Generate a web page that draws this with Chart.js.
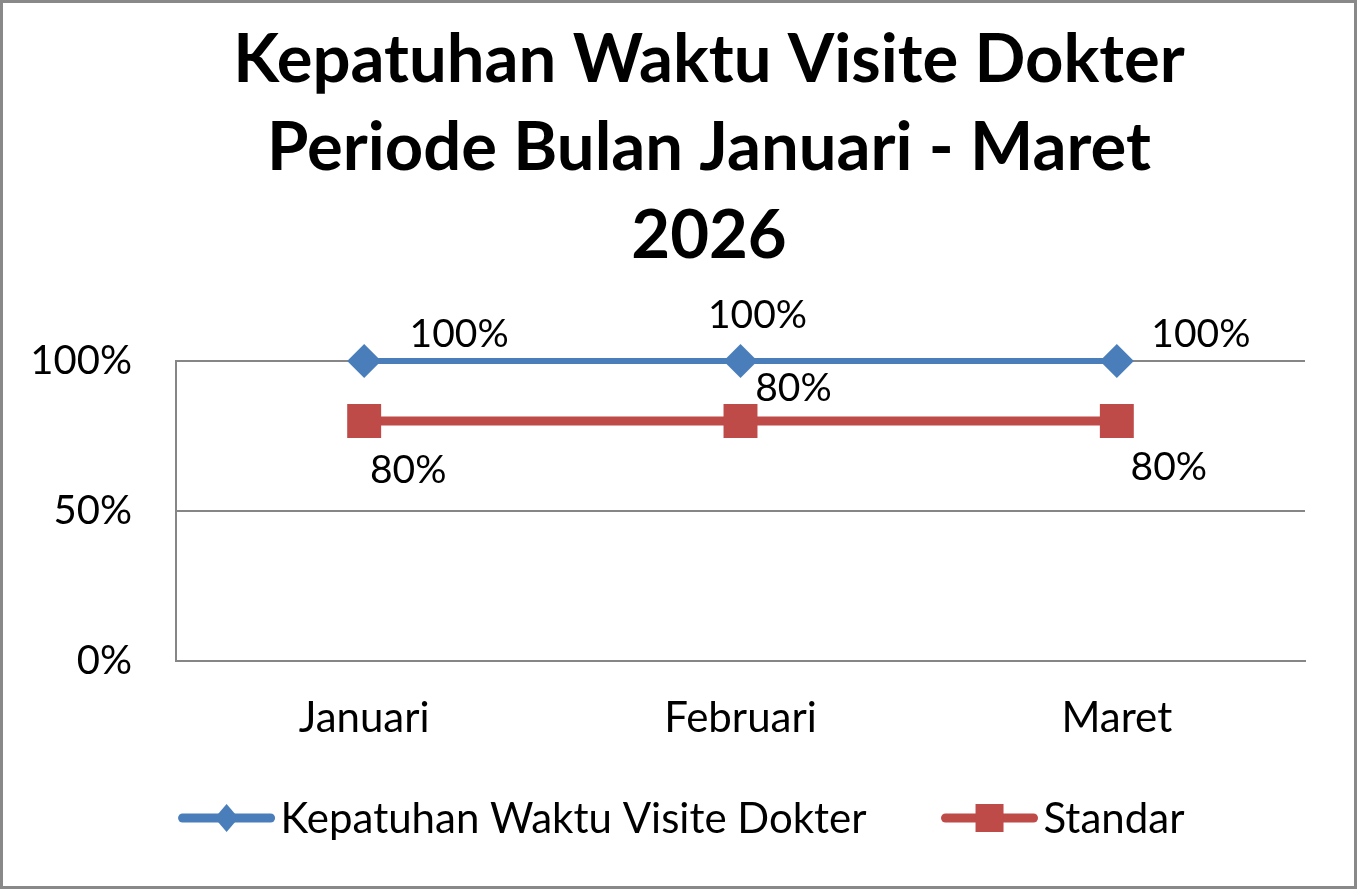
<!DOCTYPE html>
<html>
<head>
<meta charset="utf-8">
<title>Kepatuhan Waktu Visite Dokter</title>
<script src="https://cdn.jsdelivr.net/npm/chart.js@4.4.1/dist/chart.umd.min.js"></script>
<style>
  html, body { margin: 0; padding: 0; background: #ffffff; overflow: hidden; }
  canvas { display: block; }
</style>
</head>
<body>
<canvas id="c" width="1357" height="889"></canvas>
<script>
// ---- data ----
const titleLines = ['Kepatuhan Waktu Visite Dokter', 'Periode Bulan Januari - Maret', '2026'];
const categories = ['Januari', 'Februari', 'Maret'];
const seriesNames = ['Kepatuhan Waktu Visite Dokter', 'Standar'];
const kepatuhanValues = [1.00, 1.00, 1.00];
const standarValues = [0.80, 0.80, 0.80];
const yTickLabels = ['0%', '50%', '100%'];

// ---- styles ----
const FONT = 'Lato, "Open Sans", sans-serif';
const BLUE = '#4A7EBB';
const RED = '#BE4B48';
const GRID = '#868686';
// label offsets (px) relative to each point, per series
const labelOffsets = [
  [[95, -28], [17, -47], [84, -28]],
  [[44, 48], [53, -34], [52, 45]]
];

function pct(v) { return Math.round(v * 100) + '%'; }

const bgPlugin = {
  id: 'bg',
  beforeDraw(chart) {
    const ctx = chart.ctx;
    ctx.save();
    ctx.fillStyle = '#ffffff';
    ctx.fillRect(0, 0, chart.width, chart.height);
    ctx.restore();
  },
  afterDraw(chart) {
    const ctx = chart.ctx;
    ctx.save();
    ctx.strokeStyle = '#898989';
    ctx.lineWidth = 3;
    ctx.strokeRect(1.5, 1.5, chart.width - 3, chart.height - 3);
    ctx.restore();
  }
};

const titlePlugin = {
  id: 'titleLines',
  afterDraw(chart) {
    const ctx = chart.ctx;
    ctx.save();
    ctx.fillStyle = '#000000';
    ctx.font = 'bold 67px ' + FONT;
    ctx.textAlign = 'center';
    ctx.textBaseline = 'alphabetic';
    const baselines = [82, 170, 258];
    titleLines.forEach((t, i) => ctx.fillText(t, 709, baselines[i]));
    ctx.restore();
  }
};

const labelPlugin = {
  id: 'pointLabels',
  afterDatasetsDraw(chart) {
    const ctx = chart.ctx;
    ctx.save();
    ctx.fillStyle = '#000000';
    ctx.font = '39px ' + FONT;
    ctx.textAlign = 'center';
    ctx.textBaseline = 'alphabetic';
    chart.data.datasets.forEach((ds, di) => {
      const meta = chart.getDatasetMeta(di);
      meta.data.forEach((pt, i) => {
        const off = labelOffsets[di][i];
        ctx.fillText(pct(ds.data[i]), pt.x + off[0], pt.y + off[1] + 14);
      });
    });
    ctx.restore();
  }
};

function drawIcon(ctx, x, y, w, color, style) {
  ctx.save();
  ctx.strokeStyle = color;
  ctx.fillStyle = color;
  ctx.lineWidth = 9;
  ctx.lineCap = 'round';
  ctx.beginPath();
  ctx.moveTo(x + 5, y);
  ctx.lineTo(x + w - 5, y);
  ctx.stroke();
  const cx = x + w / 2;
  ctx.beginPath();
  if (style === 'rectRot') {
    ctx.moveTo(cx, y - 14);
    ctx.lineTo(cx + 12, y);
    ctx.lineTo(cx, y + 14);
    ctx.lineTo(cx - 12, y);
    ctx.closePath();
  } else {
    ctx.rect(cx - 14, y - 14, 28, 28);
  }
  ctx.fill();
  ctx.restore();
}

const legendPlugin = {
  id: 'lineLegend',
  afterDraw(chart) {
    const ctx = chart.ctx;
    ctx.save();
    ctx.font = '42px ' + FONT;
    ctx.textBaseline = 'alphabetic';
    ctx.textAlign = 'left';
    const iconW = 98, gapIcon = 5, gapItem = 74;
    const items = chart.data.datasets.map(ds => ({
      text: ds.label, color: ds.borderColor, style: ds.pointStyle,
      w: iconW + gapIcon + ctx.measureText(ds.label).width
    }));
    const total = items.reduce((s, it) => s + it.w, 0) + gapItem * (items.length - 1);
    let x = 681 - total / 2;
    const cy = 818, base = 833;
    items.forEach(it => {
      drawIcon(ctx, x, cy, iconW, it.color, it.style);
      ctx.fillStyle = '#000000';
      ctx.fillText(it.text, x + iconW + gapIcon, base);
      x += it.w + gapItem;
    });
    ctx.restore();
  }
};

const data = {
  labels: categories,
  datasets: [
    {
      label: seriesNames[0],
      data: kepatuhanValues,
      borderColor: BLUE,
      backgroundColor: BLUE,
      borderWidth: 6,
      pointStyle: 'rectRot',
      pointRadius: 17,
      pointHoverRadius: 17,
      pointBorderWidth: 0,
      pointBackgroundColor: BLUE,
      tension: 0,
      clip: false
    },
    {
      label: seriesNames[1],
      data: standarValues,
      borderColor: RED,
      backgroundColor: RED,
      borderWidth: 9,
      pointStyle: 'rect',
      pointRadius: 24,
      pointHoverRadius: 24,
      pointBorderWidth: 0,
      pointBackgroundColor: RED,
      tension: 0,
      clip: false
    }
  ]
};

function build() {
  new Chart(document.getElementById('c'), {
    type: 'line',
    data: data,
    plugins: [bgPlugin, titlePlugin, labelPlugin, legendPlugin],
    options: {
      responsive: false,
      animation: false,
      devicePixelRatio: 1,
      layout: { padding: { top: 361, left: 33, right: 52, bottom: 112 } },
      plugins: {
        legend: { display: false },
        title: { display: false },
        tooltip: { enabled: false }
      },
      events: [],
      scales: {
        x: {
          offset: true,
          grid: { display: false, drawTicks: false },
          border: { display: true, color: GRID, width: 2 },
          ticks: { color: '#000000', font: { family: FONT, size: 42 }, padding: 33 }
        },
        y: {
          min: 0,
          max: 1,
          afterFit(scale) { scale.width = 143; },
          afterBuildTicks(scale) {
            scale.ticks = yTickLabels.map((t, i) => ({ value: i * 0.5 }));
          },
          grid: { color: GRID, lineWidth: 2, drawTicks: false },
          border: { display: true, color: GRID, width: 2 },
          ticks: {
            color: '#000000',
            font: { family: FONT, size: 40 },
            padding: 44,
            callback: (v, i) => yTickLabels[i]
          }
        }
      }
    }
  });
}

if (document.fonts && document.fonts.load) {
  Promise.all([
    document.fonts.load('39px Lato'),
    document.fonts.load('bold 67px Lato')
  ]).then(build, build);
} else {
  build();
}
</script>
</body>
</html>
